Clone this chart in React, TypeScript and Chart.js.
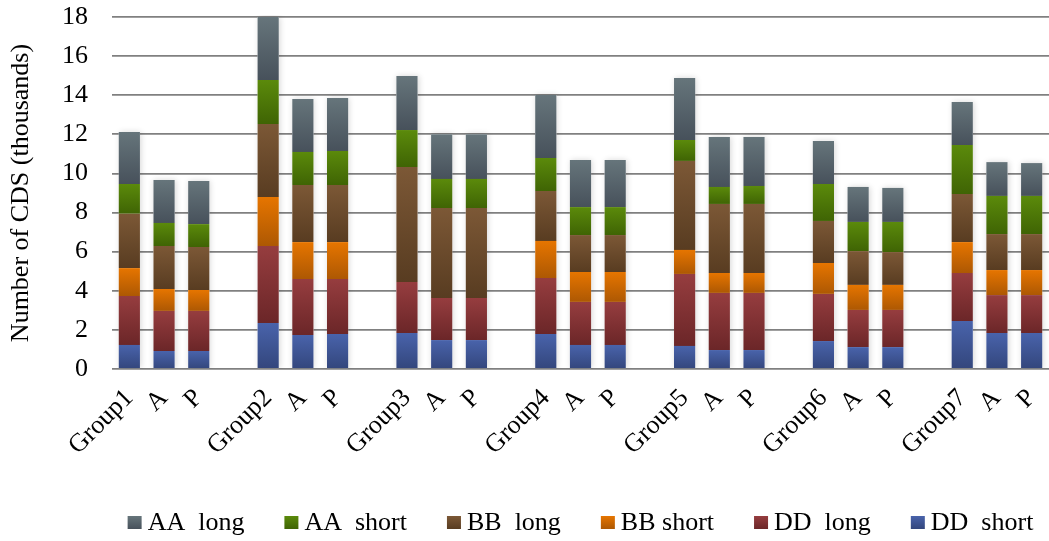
import React, { useEffect, useRef } from 'react';
import { Chart, registerables } from 'chart.js';

Chart.register(...registerables);

// ---- data ----
const groupNames = ['Group1', 'Group2', 'Group3', 'Group4', 'Group5', 'Group6', 'Group7'];
const subNames = ['A', 'P'];

// values per bar in order: Group, A, P for each group
const ddShort = [1.23, 0.92, 0.92, 2.35, 1.74, 1.79, 1.84, 1.48, 1.48, 1.79, 1.23, 1.23, 1.18, 0.97, 0.97, 1.43, 1.12, 1.12, 2.45, 1.84, 1.84];
const ddLong = [2.5, 2.05, 2.05, 3.94, 2.86, 2.81, 2.61, 2.15, 2.15, 2.86, 2.2, 2.2, 3.68, 2.92, 2.92, 2.41, 1.9, 1.9, 2.46, 1.94, 1.94];
const bbShort = [1.43, 1.12, 1.07, 2.5, 1.89, 1.89, 0, 0, 0, 1.9, 1.53, 1.53, 1.23, 1.02, 1.02, 1.58, 1.28, 1.28, 1.58, 1.28, 1.28];
const bbLong = [2.78, 2.2, 2.2, 3.74, 2.92, 2.92, 5.88, 4.6, 4.6, 2.55, 1.89, 1.89, 4.55, 3.53, 3.53, 2.15, 1.73, 1.68, 2.46, 1.84, 1.84];
const aaShort = [1.52, 1.18, 1.17, 2.25, 1.69, 1.74, 1.89, 1.49, 1.49, 1.69, 1.43, 1.43, 1.07, 0.87, 0.92, 1.89, 1.49, 1.54, 2.5, 1.95, 1.95];
const aaLong = [2.66, 2.19, 2.2, 3.22, 2.71, 2.71, 2.76, 2.28, 2.28, 3.22, 2.41, 2.41, 3.17, 2.55, 2.5, 2.2, 1.79, 1.74, 2.2, 1.73, 1.68];

const seriesLabels = ['DD  short', 'DD  long', 'BB short', 'BB  long', 'AA  short', 'AA  long'];
const seriesValues = [ddShort, ddLong, bbShort, bbLong, aaShort, aaLong];

const yMin = 0;
const yMax = 18;
const yStep = 2;
const yTitle = 'Number of CDS (thousands)';

// ---- styles ----
const topColors = ['#4963ab', '#963d3f', '#e67500', '#7c5836', '#5b8a0b', '#66757b'];
const bottomColors = ['#33467c', '#6b2628', '#ad5803', '#583c21', '#3f6404', '#47515b'];
const FONT = '"Liberation Serif", "Times New Roman", serif';
const FS = 26;

// build categories with a blank slot between groups
const categories: string[] = [];
groupNames.forEach((g, gi) => {
  categories.push(g, subNames[0], subNames[1]);
  if (gi < groupNames.length - 1) categories.push('');
});
function withGaps(vals: number[]): (number | null)[] {
  const out: (number | null)[] = [];
  groupNames.forEach((_, gi) => {
    out.push(vals[gi * 3], vals[gi * 3 + 1], vals[gi * 3 + 2]);
    if (gi < groupNames.length - 1) out.push(null);
  });
  return out;
}

const shadowPlugin = {
  id: 'barShadow',
  beforeDatasetsDraw(chart: any) {
    const ctx = chart.ctx;
    const n = chart.data.datasets.length;
    const firstMeta = chart.getDatasetMeta(0);
    const lastMeta = chart.getDatasetMeta(n - 1);
    ctx.save();
    ctx.beginPath();
    ctx.rect(chart.chartArea.left, chart.chartArea.top - 2, chart.chartArea.right - chart.chartArea.left, chart.chartArea.bottom - chart.chartArea.top + 2);
    ctx.clip();
    firstMeta.data.forEach((el: any, i: number) => {
      const lastEl = lastMeta.data[i];
      if (chart.data.datasets[0].data[i] == null) return;
      const x = el.x - el.width / 2;
      const top = lastEl.y;
      const bottom = el.base;
      ctx.save();
      ctx.shadowColor = 'rgba(0,0,0,0.16)';
      ctx.shadowBlur = 6;
      ctx.shadowOffsetX = 1;
      ctx.fillStyle = '#ffffff';
      ctx.fillRect(x, top, el.width, bottom - top);
      ctx.restore();
    });
    ctx.restore();
  },
};

const legendPlugin = {
  id: 'customLegend',
  afterDraw(chart: any) {
    const ctx = chart.ctx;
    const ds = chart.data.datasets;
    const order = ds.map((_: any, i: number) => i).reverse();
    ctx.save();
    ctx.font = `${FS}px ${FONT}`;
    ctx.textBaseline = 'middle';
    ctx.textAlign = 'left';
    const box = 14;
    const boxH = 13;
    const gap = 6;
    const itemGap = 40;
    const widths = order.map((i: number) => box + gap + ctx.measureText(ds[i].label).width);
    const total = widths.reduce((a: number, b: number) => a + b, 0) + itemGap * (order.length - 1);
    const ca = chart.chartArea;
    let x = (ca.left + ca.right) / 2 - total / 2;
    const yc = 522.5;
    order.forEach((i: number, k: number) => {
      const g = ctx.createLinearGradient(0, yc - boxH / 2, 0, yc + boxH / 2);
      g.addColorStop(0, topColors[i]);
      g.addColorStop(1, bottomColors[i]);
      ctx.fillStyle = g;
      ctx.fillRect(x, yc - boxH / 2, box, boxH);
      ctx.fillStyle = '#000000';
      ctx.fillText(ds[i].label, x + box + gap, yc + 1);
      x += widths[k] + itemGap;
    });
    ctx.restore();
  },
};

export default function App() {
  const ref = useRef<HTMLCanvasElement>(null);

  useEffect(() => {
    if (!ref.current) return;
    const datasets = seriesValues.map((vals, si) => ({
      label: seriesLabels[si],
      data: withGaps(vals),
      borderWidth: 0,
      backgroundColor: (c: any) => {
        const chart = c.chart;
        if (c.type !== 'data' || !chart.chartArea) return topColors[si];
        const i = c.dataIndex;
        const dsets = chart.data.datasets;
        let start = 0;
        for (let k = 0; k < si; k++) start += (dsets[k].data[i] as number) || 0;
        const v = (dsets[si].data[i] as number) || 0;
        const y0 = chart.scales.y.getPixelForValue(start);
        const y1 = chart.scales.y.getPixelForValue(start + v);
        if (!isFinite(y0) || !isFinite(y1) || Math.abs(y0 - y1) < 0.5) return topColors[si];
        const g = chart.ctx.createLinearGradient(0, y1, 0, y0);
        g.addColorStop(0, topColors[si]);
        g.addColorStop(1, bottomColors[si]);
        return g;
      },
      categoryPercentage: 1,
      barPercentage: 0.61,
    }));

    const chart = new Chart(ref.current, {
      type: 'bar',
      data: { labels: categories, datasets },
      plugins: [shadowPlugin, legendPlugin],
      options: {
        animation: false,
        responsive: true,
        maintainAspectRatio: false,
        layout: { padding: { top: 17, right: 0, bottom: 82, left: 0 } },
        plugins: {
          legend: { display: false },
          tooltip: { enabled: false },
        },
        scales: {
          x: {
            stacked: true,
            grid: { display: false, drawTicks: false },
            border: { display: false },
            ticks: {
              autoSkip: false,
              maxRotation: 45,
              minRotation: 45,
              padding: 14,
              color: '#000000',
              font: { family: FONT, size: FS },
            },
            afterFit: (s: any) => {
              s.height = 90;
              s.paddingLeft = 0;
              s.paddingRight = 0;
            },
          },
          y: {
            stacked: true,
            min: yMin,
            max: yMax,
            grid: { color: '#808080', lineWidth: 1.8, drawTicks: false },
            border: { display: false },
            ticks: {
              stepSize: yStep,
              padding: 24,
              color: '#000000',
              font: { family: FONT, size: FS },
            },
            title: {
              display: true,
              text: yTitle,
              color: '#000000',
              font: { family: FONT, size: FS },
              padding: { top: 6, bottom: 0 },
            },
            afterFit: (s: any) => {
              s.width = 112;
              s.paddingTop = 0;
              s.paddingBottom = 0;
            },
          },
        },
      },
    });
    return () => chart.destroy();
  }, []);

  return (
    <div style={{ position: 'absolute', left: 0, top: 0, width: 1049, height: 541, background: '#ffffff' }}>
      <canvas ref={ref} />
    </div>
  );
}
